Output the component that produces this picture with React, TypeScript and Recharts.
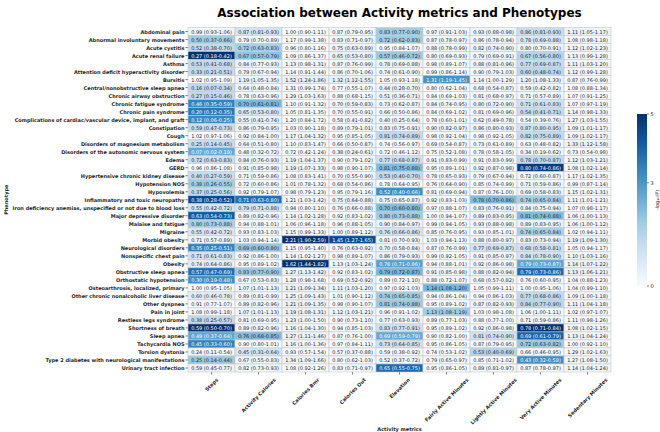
import { Scatter, ScatterChart, XAxis, YAxis } from "recharts";

const phenotypes = [
  "Abdominal pain",
  "Abnormal involuntary movements",
  "Acute cystitis",
  "Acute renal failure",
  "Asthma",
  "Attention deficit hyperactivity disorder",
  "Bursitis",
  "Central/nonobstructive sleep apnea",
  "Chronic airway obstruction",
  "Chronic fatigue syndrome",
  "Chronic pain syndrome",
  "Complications of cardiac/vascular device, implant, and graft",
  "Constipation",
  "Cough",
  "Disorders of magnesium metabolism",
  "Disorders of the autonomic nervous system",
  "Edema",
  "GERD",
  "Hypertensive chronic kidney disease",
  "Hypotension NOS",
  "Hypovolemia",
  "Inflammatory and toxic neuropathy",
  "Iron deficiency anemias, unspecified or not due to blood loss",
  "Major depressive disorder",
  "Malaise and fatigue",
  "Migraine",
  "Morbid obesity",
  "Neurological disorders",
  "Nonspecific chest pain",
  "Obesity",
  "Obstructive sleep apnea",
  "Orthostatic hypotension",
  "Osteoarthrosis, localized, primary",
  "Other chronic nonalcoholic liver disease",
  "Other dyspnea",
  "Pain in joint",
  "Restless legs syndrome",
  "Shortness of breath",
  "Sleep apnea",
  "Tachycardia NOS",
  "Torsion dystonia",
  "Type 2 diabetes with neurological manifestations",
  "Urinary tract infection",
];

const metrics = [
  "Steps",
  "Activity Calories",
  "Calories Bmr",
  "Calories Out",
  "Elevation",
  "Fairly Active Minutes",
  "Lightly Active Minutes",
  "Very Active Minutes",
  "Sedentary Minutes",
];

// odds ratio (95% CI), one row per phenotype, one entry per metric
const oddsRatios = [
  ["0.99 (0.93-1.06)", "0.87 (0.81-0.93)", "1.00 (0.90-1.11)", "0.87 (0.79-0.95)", "0.83 (0.77-0.90)", "0.97 (0.91-1.03)", "0.93 (0.88-0.98)", "0.86 (0.81-0.93)", "1.11 (1.05-1.17)"],
  ["0.50 (0.37-0.66)", "0.79 (0.70-0.89)", "1.17 (0.99-1.38)", "0.83 (0.71-0.97)", "0.72 (0.62-0.83)", "0.87 (0.78-0.97)", "0.86 (0.78-0.94)", "0.78 (0.69-0.88)", "1.08 (0.98-1.18)"],
  ["0.52 (0.38-0.70)", "0.72 (0.63-0.83)", "0.96 (0.80-1.16)", "0.75 (0.63-0.89)", "0.95 (0.84-1.07)", "0.88 (0.78-0.99)", "0.82 (0.74-0.90)", "0.80 (0.70-0.91)", "1.12 (1.02-1.23)"],
  ["0.27 (0.18-0.42)", "0.67 (0.57-0.79)", "1.09 (0.86-1.37)", "0.65 (0.53-0.80)", "0.57 (0.46-0.72)", "0.80 (0.69-0.93)", "0.79 (0.69-0.91)", "0.67 (0.56-0.80)", "1.13 (0.99-1.28)"],
  ["0.53 (0.41-0.68)", "0.84 (0.77-0.93)", "1.13 (0.98-1.31)", "0.87 (0.76-0.99)", "0.78 (0.69-0.88)", "0.98 (0.89-1.07)", "0.88 (0.81-0.96)", "0.77 (0.69-0.87)", "1.11 (1.03-1.20)"],
  ["0.33 (0.21-0.51)", "0.79 (0.67-0.94)", "1.14 (0.91-1.44)", "0.86 (0.70-1.06)", "0.74 (0.61-0.90)", "0.99 (0.86-1.14)", "0.90 (0.79-1.03)", "0.60 (0.48-0.74)", "1.12 (0.99-1.28)"],
  ["1.02 (0.95-1.09)", "1.19 (1.05-1.35)", "1.52 (1.24-1.86)", "1.32 (1.12-1.55)", "1.05 (0.93-1.18)", "1.31 (1.19-1.45)", "1.14 (1.00-1.29)", "1.20 (1.08-1.33)", "0.87 (0.76-0.99)"],
  ["0.16 (0.07-0.34)", "0.64 (0.48-0.84)", "1.31 (0.99-1.74)", "0.77 (0.55-1.07)", "0.44 (0.28-0.70)", "0.80 (0.62-1.04)", "0.68 (0.54-0.87)", "0.59 (0.42-0.82)", "1.08 (0.88-1.34)"],
  ["0.27 (0.15-0.46)", "0.78 (0.63-0.96)", "1.29 (1.03-1.63)", "0.88 (0.68-1.15)", "0.51 (0.36-0.71)", "0.84 (0.69-1.03)", "0.81 (0.68-0.97)", "0.71 (0.57-0.89)", "1.07 (0.91-1.25)"],
  ["0.46 (0.35-0.59)", "0.70 (0.61-0.81)", "1.10 (0.91-1.32)", "0.70 (0.59-0.83)", "0.73 (0.62-0.87)", "0.84 (0.74-0.95)", "0.80 (0.72-0.90)", "0.71 (0.61-0.83)", "1.07 (0.97-1.19)"],
  ["0.20 (0.12-0.35)", "0.65 (0.53-0.80)", "1.05 (0.81-1.35)", "0.70 (0.55-0.91)", "0.66 (0.50-0.86)", "0.84 (0.69-1.02)", "0.81 (0.69-0.96)", "0.54 (0.41-0.71)", "1.14 (0.98-1.33)"],
  ["0.12 (0.06-0.25)", "0.55 (0.41-0.74)", "1.20 (0.84-1.72)", "0.58 (0.41-0.82)", "0.40 (0.25-0.64)", "0.78 (0.60-1.01)", "0.62 (0.49-0.78)", "0.54 (0.39-0.76)", "1.27 (1.03-1.55)"],
  ["0.59 (0.47-0.73)", "0.86 (0.79-0.95)", "1.03 (0.90-1.18)", "0.89 (0.79-1.01)", "0.83 (0.75-0.91)", "0.90 (0.82-0.97)", "0.86 (0.80-0.93)", "0.87 (0.80-0.95)", "1.09 (1.01-1.17)"],
  ["1.02 (0.97-1.06)", "0.92 (0.84-1.00)", "1.17 (1.04-1.32)", "0.95 (0.85-1.05)", "0.81 (0.74-0.89)", "0.98 (0.92-1.04)", "0.98 (0.92-1.05)", "0.82 (0.75-0.89)", "1.09 (1.02-1.17)"],
  ["0.25 (0.14-0.45)", "0.64 (0.51-0.80)", "1.10 (0.83-1.47)", "0.66 (0.50-0.87)", "0.74 (0.56-0.97)", "0.69 (0.54-0.87)", "0.73 (0.61-0.89)", "0.63 (0.48-0.82)", "1.33 (1.12-1.58)"],
  ["0.07 (0.02-0.19)", "0.48 (0.32-0.72)", "0.72 (0.42-1.24)", "0.38 (0.24-0.61)", "0.72 (0.46-1.12)", "0.75 (0.52-1.08)", "0.78 (0.58-1.05)", "0.34 (0.19-0.62)", "0.73 (0.54-0.98)"],
  ["0.72 (0.63-0.83)", "0.84 (0.76-0.93)", "1.19 (1.04-1.37)", "0.90 (0.79-1.02)", "0.77 (0.68-0.87)", "0.91 (0.83-0.99)", "0.91 (0.83-0.99)", "0.78 (0.70-0.87)", "1.12 (1.03-1.21)"],
  ["0.96 (0.86-1.08)", "0.91 (0.85-0.98)", "1.19 (1.07-1.33)", "0.98 (0.90-1.07)", "0.81 (0.75-0.88)", "0.95 (0.89-1.01)", "0.92 (0.87-0.98)", "0.80 (0.74-0.86)", "1.08 (1.02-1.14)"],
  ["0.40 (0.27-0.59)", "0.71 (0.59-0.86)", "1.08 (0.83-1.41)", "0.70 (0.55-0.90)", "0.53 (0.40-0.70)", "0.78 (0.65-0.93)", "0.79 (0.67-0.94)", "0.72 (0.60-0.87)", "1.17 (1.02-1.35)"],
  ["0.38 (0.26-0.55)", "0.72 (0.60-0.86)", "1.01 (0.78-1.32)", "0.68 (0.54-0.86)", "0.78 (0.64-0.95)", "0.76 (0.64-0.90)", "0.85 (0.74-0.99)", "0.71 (0.59-0.86)", "0.99 (0.87-1.14)"],
  ["0.37 (0.25-0.56)", "0.92 (0.79-1.07)", "0.98 (0.79-1.23)", "0.95 (0.79-1.16)", "0.52 (0.40-0.66)", "0.81 (0.69-0.94)", "0.87 (0.76-1.00)", "0.69 (0.58-0.83)", "1.15 (1.02-1.31)"],
  ["0.38 (0.28-0.52)", "0.71 (0.63-0.80)", "1.21 (1.03-1.42)", "0.75 (0.64-0.88)", "0.75 (0.65-0.87)", "0.92 (0.83-1.03)", "0.78 (0.70-0.86)", "0.74 (0.65-0.84)", "1.11 (1.01-1.21)"],
  ["0.55 (0.42-0.72)", "0.79 (0.71-0.88)", "0.94 (0.80-1.10)", "0.76 (0.66-0.88)", "0.70 (0.60-0.80)", "0.97 (0.88-1.07)", "0.83 (0.76-0.91)", "0.84 (0.75-0.94)", "1.07 (0.98-1.17)"],
  ["0.63 (0.54-0.73)", "0.89 (0.82-0.96)", "1.14 (1.02-1.28)", "0.92 (0.83-1.02)", "0.80 (0.73-0.88)", "1.00 (0.94-1.07)", "0.89 (0.83-0.95)", "0.81 (0.74-0.88)", "1.06 (1.00-1.13)"],
  ["0.80 (0.73-0.88)", "0.94 (0.88-1.01)", "1.06 (0.96-1.18)", "0.96 (0.88-1.05)", "0.90 (0.84-0.97)", "0.99 (0.94-1.05)", "0.93 (0.88-0.98)", "0.89 (0.83-0.95)", "1.06 (1.00-1.12)"],
  ["0.55 (0.42-0.72)", "0.93 (0.83-1.03)", "1.15 (0.99-1.33)", "1.00 (0.89-1.12)", "0.76 (0.66-0.86)", "0.85 (0.76-0.95)", "0.93 (0.85-1.01)", "0.74 (0.65-0.84)", "1.02 (0.94-1.11)"],
  ["0.71 (0.57-0.89)", "1.03 (0.94-1.14)", "2.21 (1.90-2.59)", "1.45 (1.27-1.65)", "0.81 (0.70-0.93)", "1.03 (0.94-1.13)", "0.88 (0.80-0.97)", "0.83 (0.73-0.94)", "1.19 (1.09-1.30)"],
  ["0.35 (0.25-0.51)", "0.69 (0.60-0.80)", "1.15 (0.95-1.40)", "0.76 (0.63-0.92)", "0.70 (0.58-0.84)", "0.87 (0.76-0.99)", "0.77 (0.69-0.87)", "0.68 (0.58-0.81)", "1.05 (0.94-1.17)"],
  ["0.71 (0.61-0.83)", "0.92 (0.86-1.00)", "1.14 (1.02-1.27)", "0.98 (0.89-1.07)", "0.86 (0.79-0.93)", "0.99 (0.92-1.05)", "0.91 (0.85-0.97)", "0.84 (0.78-0.90)", "1.10 (1.03-1.16)"],
  ["0.74 (0.64-0.86)", "0.95 (0.89-1.02)", "1.62 (1.44-1.82)", "1.13 (1.03-1.24)", "0.78 (0.71-0.86)", "0.94 (0.88-1.01)", "0.92 (0.86-0.98)", "0.79 (0.73-0.87)", "1.14 (1.07-1.22)"],
  ["0.57 (0.47-0.69)", "0.83 (0.77-0.90)", "1.27 (1.13-1.42)", "0.92 (0.83-1.02)", "0.79 (0.72-0.87)", "0.91 (0.85-0.98)", "0.88 (0.82-0.94)", "0.79 (0.73-0.86)", "1.13 (1.06-1.21)"],
  ["0.30 (0.19-0.48)", "0.67 (0.53-0.83)", "1.28 (0.98-1.68)", "0.69 (0.52-0.92)", "0.89 (0.72-1.10)", "0.88 (0.72-1.07)", "0.68 (0.57-0.82)", "0.76 (0.60-0.95)", "1.04 (0.88-1.23)"],
  ["1.00 (0.95-1.05)", "1.07 (1.01-1.13)", "1.21 (1.09-1.34)", "1.11 (1.03-1.20)", "0.97 (0.92-1.03)", "1.14 (1.08-1.20)", "1.05 (0.99-1.11)", "1.00 (0.95-1.06)", "1.04 (0.99-1.10)"],
  ["0.60 (0.46-0.78)", "0.89 (0.81-0.99)", "1.25 (1.09-1.43)", "1.01 (0.90-1.12)", "0.74 (0.65-0.85)", "0.94 (0.86-1.04)", "0.94 (0.86-1.03)", "0.77 (0.68-0.86)", "1.09 (1.00-1.18)"],
  ["0.91 (0.77-1.07)", "0.89 (0.82-0.96)", "1.21 (1.09-1.35)", "0.98 (0.90-1.07)", "0.81 (0.74-0.88)", "0.95 (0.89-1.02)", "0.87 (0.82-0.93)", "0.84 (0.77-0.90)", "1.11 (1.04-1.18)"],
  ["1.08 (0.99-1.18)", "1.07 (1.01-1.13)", "1.19 (1.08-1.31)", "1.12 (1.03-1.21)", "0.96 (0.91-1.02)", "1.13 (1.08-1.19)", "1.03 (0.98-1.08)", "1.06 (1.00-1.11)", "1.02 (0.97-1.07)"],
  ["0.38 (0.25-0.57)", "0.81 (0.69-0.95)", "1.23 (1.00-1.50)", "0.90 (0.73-1.10)", "0.77 (0.63-0.93)", "0.89 (0.77-1.03)", "0.88 (0.77-1.00)", "0.71 (0.59-0.86)", "1.11 (0.98-1.26)"],
  ["0.59 (0.50-0.70)", "0.89 (0.82-0.96)", "1.16 (1.04-1.30)", "0.94 (0.85-1.03)", "0.83 (0.77-0.91)", "0.95 (0.89-1.02)", "0.92 (0.86-0.98)", "0.78 (0.71-0.84)", "1.08 (1.02-1.15)"],
  ["0.49 (0.37-0.64)", "0.76 (0.68-0.85)", "1.27 (1.11-1.46)", "0.87 (0.76-1.00)", "0.69 (0.59-0.79)", "0.90 (0.82-1.00)", "0.81 (0.74-0.90)", "0.69 (0.61-0.79)", "1.13 (1.04-1.24)"],
  ["0.45 (0.33-0.60)", "0.90 (0.80-1.01)", "1.16 (1.00-1.36)", "0.97 (0.84-1.11)", "0.73 (0.64-0.85)", "0.95 (0.86-1.05)", "0.87 (0.79-0.95)", "0.72 (0.63-0.82)", "1.00 (0.92-1.10)"],
  ["0.24 (0.11-0.54)", "0.45 (0.31-0.64)", "0.93 (0.57-1.54)", "0.57 (0.37-0.88)", "0.59 (0.38-0.92)", "0.74 (0.53-1.02)", "0.53 (0.40-0.69)", "0.66 (0.46-0.95)", "1.29 (1.02-1.63)"],
  ["0.25 (0.14-0.44)", "0.67 (0.55-0.83)", "1.34 (1.09-1.66)", "0.80 (0.62-1.03)", "0.52 (0.37-0.72)", "0.79 (0.65-0.97)", "0.85 (0.71-1.02)", "0.43 (0.32-0.58)", "1.27 (1.08-1.50)"],
  ["0.59 (0.45-0.77)", "0.82 (0.73-0.93)", "1.08 (0.92-1.26)", "0.83 (0.71-0.97)", "0.65 (0.55-0.75)", "0.95 (0.86-1.05)", "0.89 (0.81-0.97)", "0.87 (0.78-0.97)", "1.14 (1.04-1.24)"],
];

// -log10(P) per cell, colour scale capped at 5
const negLogP = [
  [0.2, 0.9, 0.0, 0.2, 1.8, 0.1, 0.3, 1.2, 0.3],
  [1.8, 0.2, 0.0, 0.2, 1.8, 0.2, 0.2, 0.8, 0.1],
  [1.3, 1.7, 0.0, 0.3, 0.0, 0.2, 0.3, 0.3, 0.2],
  [5.0, 2.0, 0.0, 0.4, 1.9, 0.2, 0.2, 1.5, 0.1],
  [1.3, 0.3, 0.1, 0.2, 0.3, 0.0, 0.3, 1.2, 0.2],
  [1.3, 0.2, 0.0, 0.1, 0.2, 0.0, 0.1, 1.4, 0.1],
  [0.0, 0.3, 0.4, 0.4, 0.0, 3.1, 0.1, 0.3, 0.1],
  [1.3, 0.2, 0.1, 0.0, 0.3, 0.0, 0.2, 0.2, 0.0],
  [1.3, 0.1, 0.1, 0.0, 0.3, 0.0, 0.1, 0.2, 0.0],
  [3.4, 2.3, 0.0, 0.3, 0.2, 0.2, 0.3, 1.0, 0.1],
  [3.6, 0.8, 0.0, 0.1, 0.1, 0.0, 0.1, 1.2, 0.1],
  [3.3, 0.4, 0.0, 0.1, 0.2, 0.0, 0.2, 0.1, 0.1],
  [1.2, 0.3, 0.0, 0.1, 0.3, 0.2, 0.3, 0.9, 0.2],
  [0.0, 0.1, 0.2, 0.0, 1.3, 0.0, 0.0, 1.3, 0.2],
  [1.2, 0.2, 0.0, 0.1, 0.0, 0.1, 0.1, 0.1, 0.3],
  [2.6, 0.2, 0.0, 0.2, 0.0, 0.0, 0.0, 0.2, 0.0],
  [1.1, 0.3, 0.2, 0.0, 1.0, 0.1, 0.1, 1.3, 0.2],
  [0.0, 0.2, 0.3, 0.0, 2.2, 0.0, 0.2, 4.8, 0.2],
  [1.2, 0.1, 0.0, 0.1, 1.3, 0.1, 0.1, 0.2, 0.1],
  [1.8, 0.1, 0.0, 0.1, 0.0, 0.1, 0.0, 0.2, 0.0],
  [1.3, 0.0, 0.0, 0.0, 3.2, 0.1, 0.0, 0.3, 0.1],
  [4.5, 3.8, 0.1, 0.3, 0.3, 0.0, 2.2, 1.7, 0.1],
  [0.9, 0.9, 0.0, 0.2, 2.2, 0.0, 0.3, 0.3, 0.0],
  [4.2, 0.2, 0.1, 0.0, 1.8, 0.0, 0.3, 2.2, 0.1],
  [1.7, 0.0, 0.0, 0.0, 0.3, 0.0, 0.2, 0.3, 0.1],
  [0.8, 0.0, 0.0, 0.0, 0.9, 0.1, 0.0, 1.7, 0.0],
  [0.3, 0.0, 5.0, 4.5, 0.2, 0.0, 0.2, 0.3, 0.3],
  [3.4, 2.0, 0.0, 0.2, 0.3, 0.1, 0.9, 1.0, 0.0],
  [0.9, 0.1, 0.1, 0.0, 0.3, 0.0, 0.2, 0.9, 0.2],
  [0.5, 0.0, 5.0, 0.2, 2.8, 0.0, 0.2, 2.7, 0.3],
  [3.8, 1.9, 0.3, 0.0, 2.3, 0.2, 0.3, 3.9, 0.3],
  [3.2, 0.2, 0.0, 0.1, 0.0, 0.0, 0.2, 0.1, 0.0],
  [0.0, 0.2, 0.3, 0.2, 0.0, 2.3, 0.0, 0.0, 0.0],
  [0.5, 0.1, 0.2, 0.0, 1.8, 0.0, 0.0, 1.3, 0.1],
  [0.0, 0.2, 0.3, 0.0, 1.9, 0.0, 0.3, 1.4, 0.2],
  [0.1, 0.2, 0.3, 0.2, 0.0, 1.8, 0.0, 0.1, 0.0],
  [1.3, 0.1, 0.1, 0.0, 0.2, 0.0, 0.0, 0.2, 0.0],
  [5.0, 0.2, 0.2, 0.0, 1.0, 0.0, 0.2, 5.0, 0.2],
  [2.7, 2.2, 0.3, 0.0, 2.6, 0.0, 1.0, 4.0, 0.2],
  [3.4, 0.0, 0.1, 0.0, 1.0, 0.0, 0.2, 1.9, 0.0],
  [0.2, 0.9, 0.0, 0.1, 0.1, 0.0, 1.5, 0.1, 0.1],
  [1.9, 0.2, 0.2, 0.0, 0.2, 0.1, 0.0, 3.2, 0.2],
  [0.3, 0.2, 0.0, 0.1, 3.9, 0.0, 0.2, 0.1, 0.2],
];

const colorbarTicks = [0, 3, 5];

const V_MAX = 5;
const WIDTH = 660;
const HEIGHT = 432;
const PLOT = { left: 188, right: 611, top: 27.5, bottom: 372 };
const CELL_W = (PLOT.right - PLOT.left) / metrics.length;
const CELL_H = (PLOT.bottom - PLOT.top) / phenotypes.length;
const FONT = "'DejaVu Sans', sans-serif";
const INK = "#262626";

// matplotlib "Blues"
const BLUES = ["#f7fbff", "#deebf7", "#c6dbef", "#9ecae1", "#6baed6", "#4292c6", "#2171b5", "#08519c", "#08306b"];

const hexToRgb = (h: string) => [1, 3, 5].map((i) => parseInt(h.slice(i, i + 2), 16));

const bluesRgb = (t: number) => {
  const s = Math.max(0, Math.min(1, t)) * (BLUES.length - 1);
  const i = Math.min(Math.floor(s), BLUES.length - 2);
  const f = s - i;
  const a = hexToRgb(BLUES[i]);
  const b = hexToRgb(BLUES[i + 1]);
  return a.map((v, k) => Math.round(v + (b[k] - v) * f));
};

const luminance = (rgb: number[]) => {
  const [r, g, b] = rgb.map((c) => {
    const v = c / 255;
    return v <= 0.03928 ? v / 12.92 : Math.pow((v + 0.055) / 1.055, 2.4);
  });
  return 0.2126 * r + 0.7152 * g + 0.0722 * b;
};

let measureCtx: CanvasRenderingContext2D | null = null;
const textWidth = (s: string, font: string) => {
  if (!measureCtx && typeof document !== "undefined") {
    measureCtx = document.createElement("canvas").getContext("2d");
  }
  if (!measureCtx) return s.length * 3;
  measureCtx.font = font;
  return measureCtx.measureText(s).width;
};

const cells = phenotypes.flatMap((_, r) =>
  metrics.map((__, c) => ({
    x: c + 0.5,
    y: r + 0.5,
    label: oddsRatios[r][c],
    p: negLogP[r][c],
  }))
);

const HeatCell = (props: any) => {
  const { cx, cy, payload } = props;
  if (cx == null || cy == null) return null;
  const rgb = bluesRgb(payload.p / V_MAX);
  const textFill = luminance(rgb) < 0.408 ? "#ffffff" : INK;
  return (
    <g>
      <rect
        x={cx - CELL_W / 2}
        y={cy - CELL_H / 2}
        width={CELL_W}
        height={CELL_H}
        fill={`rgb(${rgb.join(",")})`}
        stroke="#c8c8c8"
        strokeWidth={0.6}
      />
      <text
        x={cx}
        y={cy}
        textAnchor="middle"
        dominantBaseline="central"
        fontFamily={FONT}
        fontSize={5}
        fill={textFill}
      >
        {payload.label}
      </text>
    </g>
  );
};

const PhenotypeTick = ({ x, y, payload }: any) => (
  <text
    x={x}
    y={y}
    textAnchor="end"
    dominantBaseline="central"
    fontFamily={FONT}
    fontSize={5}
    fontWeight="bold"
    fill={INK}
  >
    {phenotypes[Math.floor(payload.value)]}
  </text>
);

// rotated 45 degrees, centred under the column
const MetricTick = ({ x, y, payload }: any) => {
  const label = metrics[Math.floor(payload.value)];
  const w = textWidth(label, `bold 5px ${FONT}`);
  const cy = y + (w + 5) * Math.SQRT1_2 * 0.5;
  return (
    <text
      x={x}
      y={cy}
      transform={`rotate(-45 ${x} ${cy})`}
      textAnchor="middle"
      dominantBaseline="central"
      fontFamily={FONT}
      fontSize={5}
      fontWeight="bold"
      fill={INK}
    >
      {label}
    </text>
  );
};

const CB = { x: 637, y: 114, w: 10, h: 172 };

const App = () => {
  return (
    <div
      style={{
        position: "absolute",
        left: 0,
        top: 0,
        width: WIDTH,
        height: HEIGHT,
        background: "#ffffff",
      }}
    >
      <ScatterChart
        width={WIDTH}
        height={HEIGHT}
        margin={{ top: PLOT.top, right: WIDTH - PLOT.right, bottom: 0, left: 0 }}
      >
        <XAxis
          dataKey="x"
          type="number"
          domain={[0, metrics.length]}
          ticks={metrics.map((_, i) => i + 0.5)}
          interval={0}
          height={HEIGHT - PLOT.bottom}
          axisLine={false}
          tickSize={2.5}
          tickMargin={2.5}
          tickLine={{ stroke: INK, strokeWidth: 0.6 }}
          tick={<MetricTick />}
        />
        <YAxis
          dataKey="y"
          type="number"
          domain={[0, phenotypes.length]}
          reversed
          ticks={phenotypes.map((_, i) => i + 0.5)}
          interval={0}
          width={PLOT.left}
          axisLine={false}
          tickSize={2.5}
          tickMargin={1}
          tickLine={{ stroke: INK, strokeWidth: 0.6 }}
          tick={<PhenotypeTick />}
        />
        <Scatter data={cells} shape={HeatCell} isAnimationActive={false} />
      </ScatterChart>

      <svg
        width={WIDTH}
        height={HEIGHT}
        style={{ position: "absolute", left: 0, top: 0, pointerEvents: "none" }}
      >
        <defs>
          <linearGradient id="bluesBar" x1="0" y1="1" x2="0" y2="0">
            {BLUES.map((c, i) => (
              <stop key={c} offset={i / (BLUES.length - 1)} stopColor={c} />
            ))}
          </linearGradient>
        </defs>
        <text
          x={(PLOT.left + PLOT.right) / 2}
          y={17.3}
          textAnchor="middle"
          fontFamily={FONT}
          fontSize={12}
          fontWeight="bold"
          fill="#000"
        >
          Association between Activity metrics and Phenotypes
        </text>
        <text
          x={(PLOT.left + PLOT.right) / 2}
          y={429}
          textAnchor="middle"
          dominantBaseline="central"
          fontFamily={FONT}
          fontSize={5}
          fontWeight="bold"
          fill={INK}
        >
          Activity metrics
        </text>
        <text
          x={6}
          y={(PLOT.top + PLOT.bottom) / 2}
          transform={`rotate(-90 6 ${(PLOT.top + PLOT.bottom) / 2})`}
          textAnchor="middle"
          dominantBaseline="central"
          fontFamily={FONT}
          fontSize={5}
          fontWeight="bold"
          fill={INK}
        >
          Phenotype
        </text>

        <rect x={CB.x} y={CB.y} width={CB.w} height={CB.h} fill="url(#bluesBar)" />
        {colorbarTicks.map((t) => {
          const ty = CB.y + CB.h * (1 - t / V_MAX);
          return (
            <g key={t}>
              <line x1={CB.x + CB.w} x2={CB.x + CB.w + 2} y1={ty} y2={ty} stroke={INK} strokeWidth={0.6} />
              <text
                x={CB.x + CB.w + 3.5}
                y={ty}
                dominantBaseline="central"
                fontFamily={FONT}
                fontSize={5}
                fill={INK}
              >
                {t}
              </text>
            </g>
          );
        })}
        <text
          x={657}
          y={CB.y + CB.h / 2}
          transform={`rotate(-90 657 ${CB.y + CB.h / 2})`}
          textAnchor="middle"
          dominantBaseline="central"
          fontFamily={FONT}
          fontSize={5}
          fill={INK}
        >
          -log₁₀(P)
        </text>
      </svg>
    </div>
  );
};

export default App;
